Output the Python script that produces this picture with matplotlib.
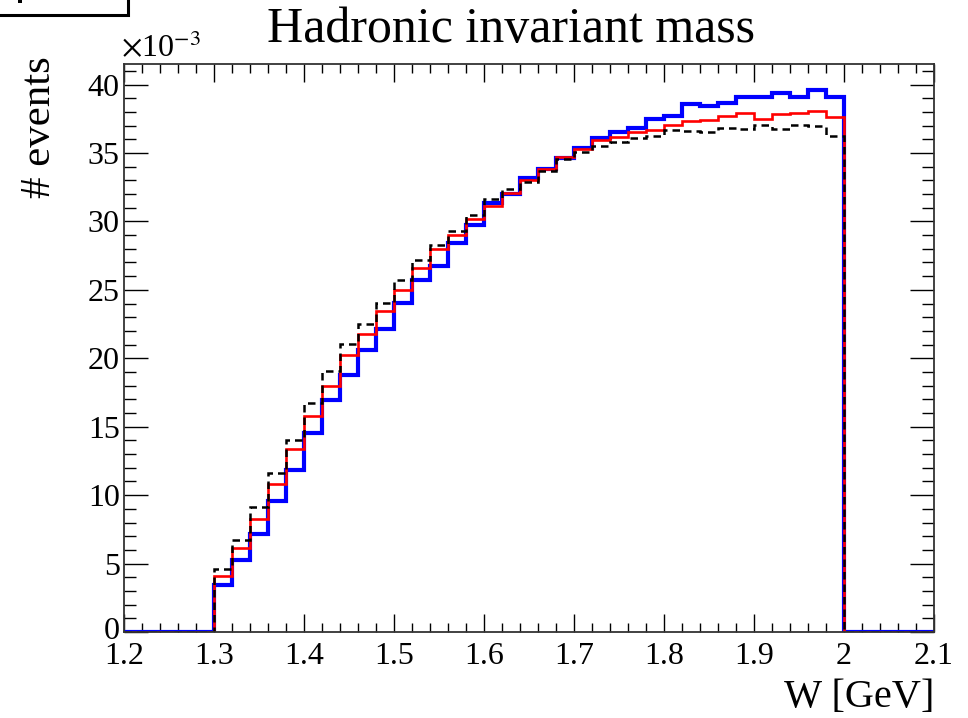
import numpy as np
import matplotlib
matplotlib.use("Agg")
import matplotlib.pyplot as plt
from matplotlib.ticker import MultipleLocator
from matplotlib.patches import Rectangle
from matplotlib.transforms import ScaledTranslation

# ---- data (x10^-3 events per bin), bins of 0.02 GeV from 1.2 to 2.1 ----
bin_edges = np.round(np.arange(1.20, 2.1001, 0.02), 2)
start_w = 1.30  # first filled bin
blue_vals = [3.47, 5.23, 7.13, 9.57, 11.86, 14.54, 16.98, 18.76, 20.64, 22.17,
             24.04, 25.75, 26.73, 28.39, 29.73, 31.33, 31.98, 33.18, 33.8, 34.6,
             35.37, 36.1, 36.5, 36.8, 37.5, 37.7, 38.6, 38.4, 38.66, 39.1,
             39.1, 39.37, 39.1, 39.6, 39.1]
red_vals = [4.06, 6.15, 8.28, 10.84, 13.4, 15.76, 17.95, 20.22, 21.8, 23.44,
            25.0, 26.63, 27.95, 28.99, 30.21, 31.1, 32.09, 33.0, 33.86, 34.7,
            35.3, 35.98, 36.2, 36.56, 36.66, 37.07, 37.3, 37.4, 37.7, 37.95,
            37.5, 37.86, 37.95, 38.1, 37.6]
black_vals = [4.62, 6.74, 9.13, 11.6, 14.0, 16.73, 19.07, 21.07, 22.54, 24.07,
              25.7, 27.17, 28.26, 29.31, 30.46, 31.65, 32.35, 32.88, 33.7, 34.56,
              35.1, 35.5, 35.8, 36.1, 36.27, 36.66, 36.6, 36.56, 36.85, 36.78,
              37.05, 36.73, 37.07, 37.0, 36.25]

title = "Hadronic invariant mass"
xlabel = "W [GeV]"
ylabel = "# events"

nbins = len(bin_edges) - 1
i0 = int(round((start_w - bin_edges[0]) / 0.02))

def full(vals):
    arr = np.zeros(nbins)
    arr[i0:i0 + len(vals)] = vals
    return arr

plt.rcParams['font.family'] = ['Liberation Serif', 'DejaVu Serif']
plt.rcParams['mathtext.fontset'] = 'stix'

fig = plt.figure(figsize=(9.68, 7.18), dpi=100)
ax = fig.add_axes([124/968, 1-632/718, (934-124)/968, (632-64)/718])

ax.stairs(full(blue_vals), bin_edges, color='#0000ff', lw=3.0, zorder=3)
ax.stairs(full(red_vals), bin_edges, color='#ff0000', lw=1.9, zorder=4)
ax.stairs(full(black_vals), bin_edges, color='black', lw=1.8,
          linestyle=(0, (3.0, 2.0)), zorder=5)

ax.set_xlim(1.2, 2.1)
ax.set_ylim(0, 41.5)

ax.xaxis.set_major_locator(MultipleLocator(0.1))
ax.xaxis.set_minor_locator(MultipleLocator(0.02))
ax.yaxis.set_major_locator(MultipleLocator(5))
ax.yaxis.set_minor_locator(MultipleLocator(1))

def xfmt(v, pos):
    s = f"{v:.1f}"
    if abs(v - 2.0) < 1e-9:
        s = "2"
    return s
ax.xaxis.set_major_formatter(matplotlib.ticker.FuncFormatter(xfmt))

ax.tick_params(axis='both', which='both', direction='in', top=True, right=True,
               labelsize=23, colors='black', width=1.0)
ax.tick_params(axis='x', which='major', length=13, pad=7)
ax.tick_params(axis='x', which='minor', length=6.5)
ax.tick_params(axis='y', which='major', length=17, pad=3)
ax.tick_params(axis='y', which='minor', length=8.6)
for sp in ax.spines.values():
    sp.set_linewidth(1.3)
    sp.set_color('#333333')
    sp.set_zorder(6)

# nudge the "0" y tick label up a little so it does not collide with "1.2"
fig.canvas.draw()
for tick in ax.yaxis.get_major_ticks():
    if abs(tick.get_loc()) < 1e-9:
        lab = tick.label1
        lab.set_transform(lab.get_transform() +
                          ScaledTranslation(0, 4/100, fig.dpi_scale_trans))

fig.text(511/968, 1-30/718, title, ha='center', va='center', fontsize=36)
fig.text(934/968, 1-697/718, xlabel, ha='right', va='center', fontsize=29)
fig.text(40/968, 1-56/718, ylabel, ha='center', va='top', rotation=90, fontsize=31)
fig.text(121/968, 1-49/718, r"$\times$10$^{-3}$", ha='left', va='center', fontsize=23)

# partially visible box in top-left corner
fig.patches.append(Rectangle((-5/968, 1-15/718), 133/968, 30/718,
                             transform=fig.transFigure, fill=False,
                             edgecolor='black', lw=2.2, zorder=10))
fig.patches.append(Rectangle((18/968, 1-3/718), 4/968, 4/718,
                             transform=fig.transFigure, facecolor='black',
                             edgecolor='none', zorder=10))

fig.savefig("out.png", dpi=100)
